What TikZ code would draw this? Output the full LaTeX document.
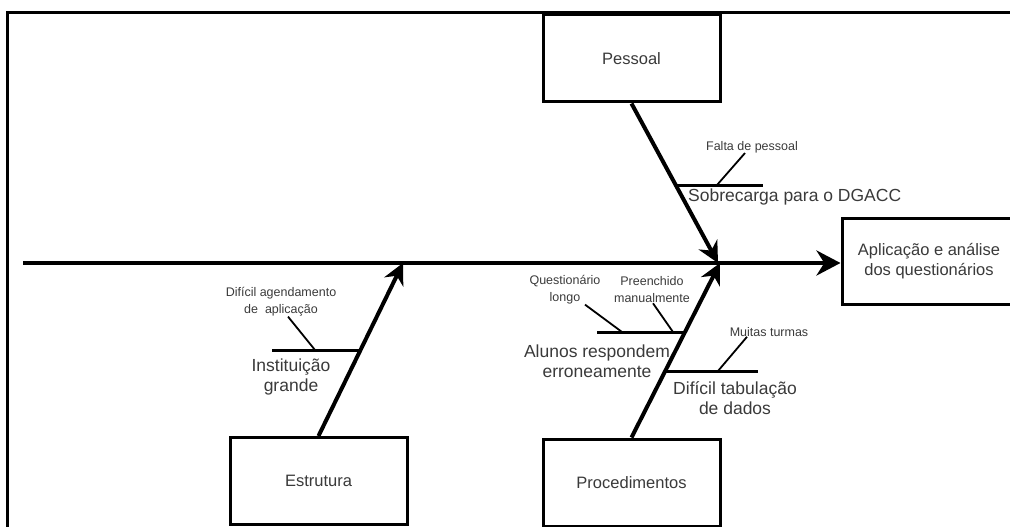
\documentclass[tikz,border=0pt]{standalone}
\usepackage{fontspec}
\setmainfont{Liberation Sans}
\usetikzlibrary{arrows.meta}
\definecolor{ishiink}{HTML}{000000}
\definecolor{ishitext}{HTML}{3A3A3A}

\begin{document}
\begin{tikzpicture}[x=1pt, y=-1pt,
  causebox/.style={draw=ishiink, line width=3pt, fill=white, minimum width=177pt,
    minimum height=87pt, inner sep=0pt, text=ishitext, font=\fontsize{16.5}{19.5}\selectfont},
  cause/.style={text=ishitext, align=center, inner sep=0pt, font=\fontsize{17.5}{20.5}\selectfont},
  subcause/.style={text=ishitext, align=center, inner sep=0pt, font=\fontsize{12.5}{17}\selectfont},
  spine/.style={ishiink, line width=4.4pt, -{Stealth[length=24pt, width=25pt]}},
  bone/.style={ishiink, line width=4pt, -{Stealth[length=21pt, width=21pt]}},
  rib/.style={ishiink, line width=3pt},
  leader/.style={ishiink, line width=1.8pt}]

  \clip (0,0) rectangle (1010,527);

  % frame
  \draw[ishiink, line width=3pt] (1016,13) -- (7,13) -- (7,531);

  % boxes
  \node[causebox] (pessoal) at (631.5,58.5) {Pessoal};
  \node[causebox] (estrutura) at (318.5,481) {Estrutura};
  \node[causebox] (procedimentos) at (631.5,482.5) {Procedimentos};
  \node[causebox, minimum width=174pt, minimum height=86pt, align=center]
    (efeito) at (929,261) {Aplicação e análise\\dos questionários};

  % spine
  \coordinate (cauda) at (23,263);
  \draw[spine] (cauda) -- (cauda -| efeito.west);

  % bones
  \coordinate (ptpessoal) at (718,263);
  \coordinate (ptestrutura) at (403,263);
  \coordinate (ptprocedimentos) at (720,263);
  \draw[bone] (pessoal.south) -- (ptpessoal);
  \draw[bone] (estrutura.north) -- (ptestrutura);
  \draw[bone] (procedimentos.north) -- (ptprocedimentos);

  % Pessoal
  \coordinate (rsobrecarga) at (677,185);
  \draw[rib] (rsobrecarga) -- ++(86,0);
  \node[cause, anchor=west] (sobrecarga) at (688,197) {Sobrecarga para o DGACC};
  \node[subcause] (falta) at (752,147) {Falta de pessoal};
  \coordinate (pfalta) at (717,185);
  \draw[leader] ([xshift=-7pt]falta.south) -- (pfalta);

  % Estrutura
  \coordinate (rinstituicao) at (360,350);
  \draw[rib] (rinstituicao) -- ++(-88,0);
  \node[cause] (instituicao) at (291,377) {Instituição\\grande};
  \node[subcause] (agendamento) at (281,302) {Difícil agendamento\\de \ aplicação};
  \coordinate (pagendamento) at (315,350);
  \draw[leader] ([xshift=7pt]agendamento.south) -- (pagendamento);

  % Procedimentos
  \coordinate (ralunos) at (685,332);
  \draw[rib] (ralunos) -- ++(-88,0);
  \node[cause] (alunos) at (597,361) {Alunos respondem\\erroneamente};
  \node[subcause] (questionario) at (565,290) {Questionário\\longo};
  \node[subcause] (preenchido) at (652,290) {Preenchido\\manualmente};
  \coordinate (pquestionario) at (622,332);
  \coordinate (ppreenchido) at (673,332);
  \draw[leader] ([xshift=20pt]questionario.south) -- (pquestionario);
  \draw[leader] ([xshift=1pt]preenchido.south) -- (ppreenchido);

  \coordinate (rtabulacao) at (666,371);
  \draw[rib] (rtabulacao) -- ++(92,0);
  \node[cause] (tabulacao) at (735,398) {Difícil tabulação\\de dados};
  \node[subcause] (turmas) at (769,332) {Muitas turmas};
  \coordinate (pturmas) at (718,371);
  \draw[leader] ([xshift=-22pt]turmas.south) -- (pturmas);

\end{tikzpicture}
\end{document}
